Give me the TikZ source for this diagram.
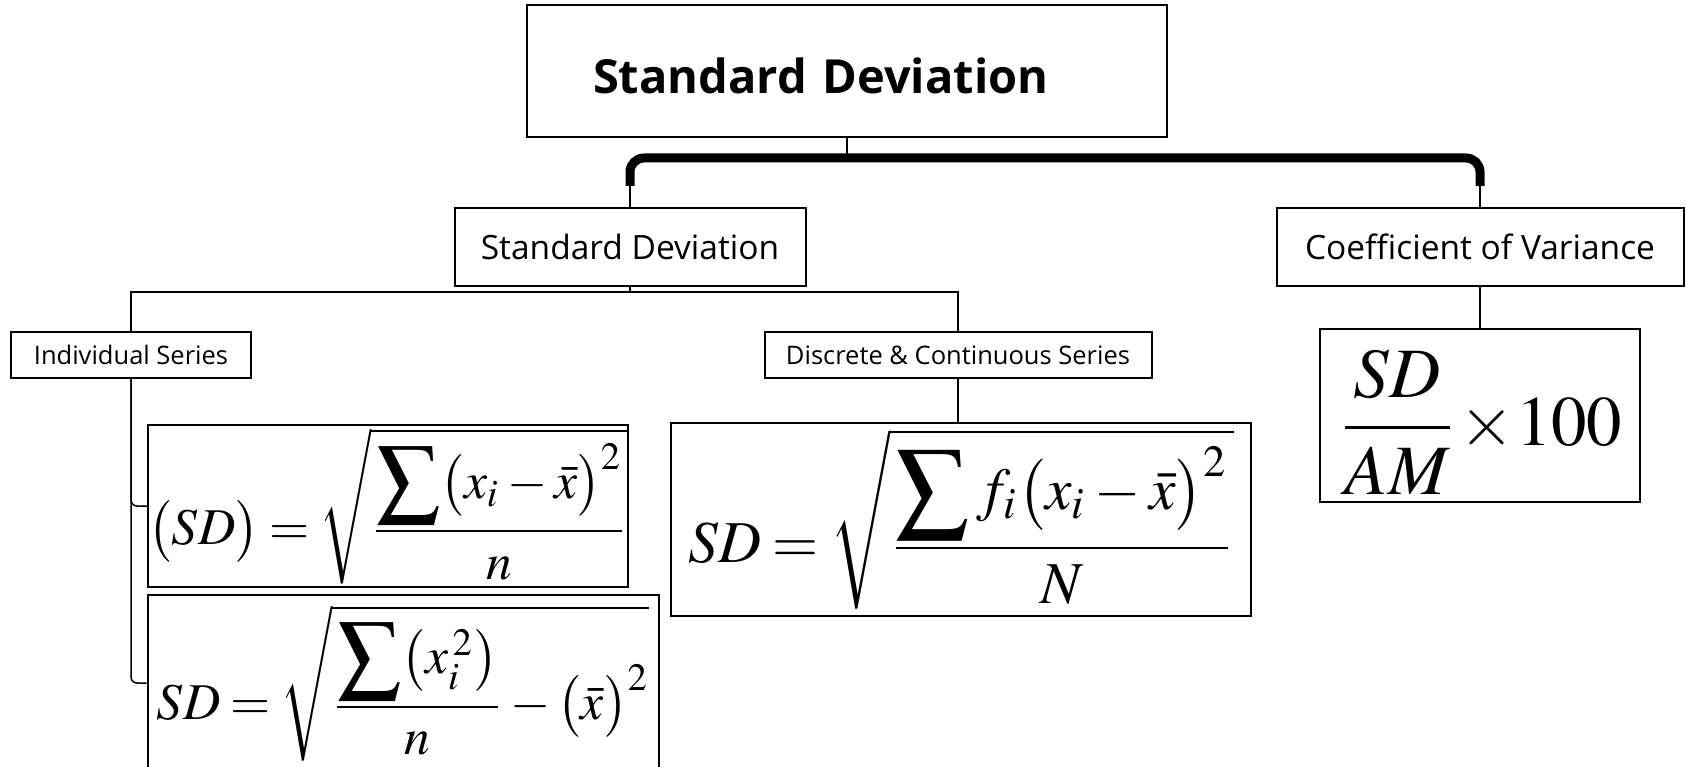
\documentclass[tikz,border=0pt]{standalone}
\usepackage{amsmath}
\usepackage{mathptmx}
\usepackage{graphicx}
\usepackage[no-math]{fontspec}
\setmainfont{Open Sans}
\usepackage{tikz}

\newcommand{\BigSum}{\mathop{\vcenter{\hbox{\scalebox{1.75}{$\sum$}}}}}
\newcommand{\FormulaText}[2]{\scalebox{#1}{\thickmuskip=3.5mu plus 1mu$\displaystyle #2$}}

\tikzset{
  box/.style={draw, line width=2pt, inner sep=0pt, align=center},
  HeadBox/.style={box, minimum height=132pt, inner xsep=66pt, text width=508pt,
    text height=46pt, text depth=0pt,
    align=left, font=\bfseries\fontsize{47}{54}\selectfont},
  SubBox/.style={box, minimum height=78pt, font=\fontsize{33.5}{38}\selectfont},
  SeriesBox/.style={box, minimum height=46pt, font=\fontsize{25.5}{30}\selectfont},
  FormulaBox/.style={box, font=\fontsize{12}{14.5}\selectfont},
  Conn/.style={line width=1.5pt},
  Bar/.style={line width=9pt, rounded corners=14pt}
}

\begin{document}
\begin{tikzpicture}[x=1pt,y=-1pt]
  \useasboundingbox (0,0) rectangle (1686,767);

  % top
  \node[HeadBox] (title) at (847,71) {Standard Deviation};

  % second level
  \node[SubBox, minimum width=351pt] (sd) at (630,247) {Standard Deviation};
  \node[SubBox, minimum width=407pt] (cv) at (1480,247) {Coefficient of Variance};

  % series
  \node[SeriesBox, minimum width=240pt] (ind) at (131,355) {Individual Series};
  \node[SeriesBox, minimum width=387pt] (dcs) at (958,355) {Discrete \& Continuous Series};

  % formulas
  \node[FormulaBox, minimum width=480pt, minimum height=162pt] (f1) at (388,506)
    {\FormulaText{4.3}{\bigl(SD\bigr)=\sqrt{\frac{\BigSum\bigl(x_i-\bar{x}\bigr)^2}{n}}}};
  \node[FormulaBox, minimum width=511pt, minimum height=177pt] (f2) at (403,683)
    {\FormulaText{4.3}{SD=\sqrt{\frac{\BigSum\bigl(x_i^{\,2}\bigr)}{n}-\bigl(\bar{x}\bigr)^2}}};
  \node[FormulaBox, minimum width=580pt, minimum height=193pt] (f3) at (961,519)
    {\FormulaText{4.95}{SD=\sqrt{\frac{\BigSum f_i\bigl(x_i-\bar{x}\bigr)^2}{N}}}};
  \node[FormulaBox, minimum width=320pt, minimum height=173pt] (f4) at (1480,415)
    {\raisebox{-7pt}[\height][\depth]{\FormulaText{5.9}{\frac{SD}{AM}\mskip-2mu\times\mskip-2mu 100}}};

  % connectors
  \coordinate (bar) at (847,158);
  \coordinate (barL) at (630,186);
  \coordinate (barR) at (1480,186);
  \coordinate (split) at (630,292);
  \draw[Conn] (title.south) -- (bar);
  \draw[Bar] (barL) -- (barL |- bar) -- (barR |- bar) -- (barR);
  \draw[Conn] (barL) -- (sd.north);
  \draw[Conn] (barR) -- (cv.north);
  \draw[Conn] (sd.south) -- (split);
  \draw[Conn] (ind.north) |- (split) -| (dcs.north);
  \draw[Conn, rounded corners=6pt] (ind.south) |- (f1.west);
  \draw[Conn, rounded corners=6pt] (ind.south) |- (f2.west);
  \draw[Conn] (dcs.south) -- (dcs.south |- f3.north);
  \draw[Conn] (cv.south) -- (f4.north);
\end{tikzpicture}
\end{document}
